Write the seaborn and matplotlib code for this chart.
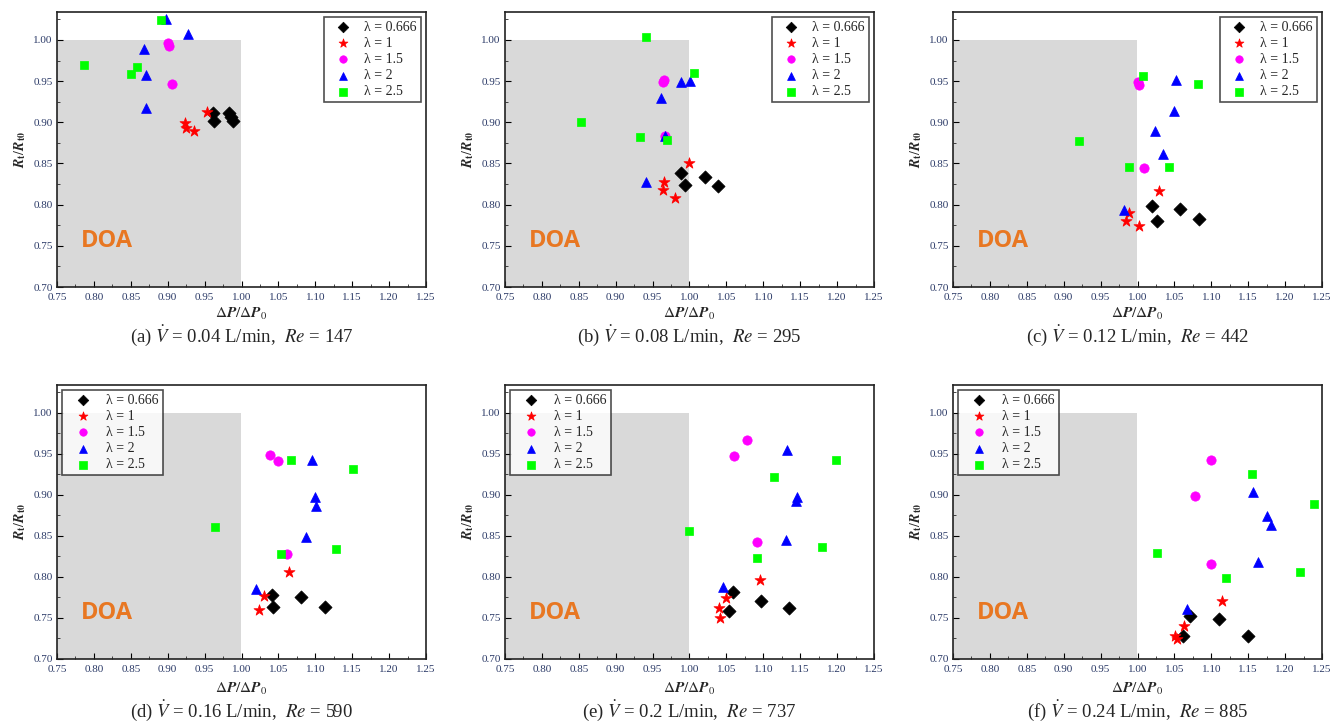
import numpy as np
import pandas as pd
import matplotlib
matplotlib.use("Agg")
import matplotlib.pyplot as plt
import seaborn as sns
from matplotlib.ticker import MultipleLocator
from matplotlib.patches import Rectangle

sns.set_theme(style="white")
plt.rcParams['font.family'] = ['Liberation Serif', 'DejaVu Serif']
plt.rcParams['mathtext.fontset'] = 'stix'

lambdas = ["λ = 0.666", "λ = 1", "λ = 1.5", "λ = 2", "λ = 2.5"]
colors = ["black", "red", "magenta", "blue", "#00FF00"]
markers = ["D", "*", "o", "^", "s"]

captions = [
    r"(a) $\dot{V}$ = 0.04 L/min,  $Re$ = 147",
    r"(b) $\dot{V}$ = 0.08 L/min,  $Re$ = 295",
    r"(c) $\dot{V}$ = 0.12 L/min,  $Re$ = 442",
    r"(d) $\dot{V}$ = 0.16 L/min,  $Re$ = 590",
    r"(e) $\dot{V}$ = 0.2 L/min,  $Re$ = 737",
    r"(f) $\dot{V}$ = 0.24 L/min,  $Re$ = 885",
]

# (a)
a_x = [[0.961, 0.963, 0.983, 0.986, 0.989],
       [0.953, 0.924, 0.925, 0.936],
       [0.900, 0.902, 0.906],
       [0.898, 0.927, 0.868, 0.870, 0.871],
       [0.891, 0.787, 0.858, 0.850]]
a_y = [[0.911, 0.902, 0.911, 0.907, 0.902],
       [0.913, 0.899, 0.893, 0.889],
       [0.996, 0.993, 0.947],
       [1.026, 1.007, 0.989, 0.957, 0.917],
       [1.024, 0.970, 0.967, 0.959]]
# (b)
b_x = [[0.988, 0.994, 1.021, 1.039],
       [1.000, 0.966, 0.964, 0.980],
       [0.966, 0.964, 0.967],
       [0.989, 1.001, 0.961, 0.967, 0.941],
       [0.941, 1.006, 0.853, 0.933, 0.969]]
b_y = [[0.838, 0.824, 0.834, 0.823],
       [0.850, 0.827, 0.818, 0.808],
       [0.952, 0.949, 0.884],
       [0.949, 0.950, 0.929, 0.883, 0.828],
       [1.004, 0.960, 0.900, 0.882, 0.878]]
# (c)
c_x = [[1.019, 1.026, 1.058, 1.084],
       [1.029, 0.989, 0.984, 1.002],
       [1.000, 1.002, 1.009],
       [1.052, 1.049, 1.024, 1.034, 0.982],
       [1.007, 1.082, 0.921, 0.988, 1.043]]
c_y = [[0.798, 0.780, 0.795, 0.783],
       [0.817, 0.790, 0.780, 0.774],
       [0.949, 0.945, 0.844],
       [0.952, 0.914, 0.890, 0.862, 0.794],
       [0.956, 0.946, 0.877, 0.846, 0.846]]
# (d)
d_x = [[1.041, 1.043, 1.081, 1.113],
       [1.065, 1.031, 1.024],
       [1.038, 1.050, 1.061],
       [1.095, 1.099, 1.101, 1.087, 1.019],
       [1.067, 1.151, 0.964, 1.128, 1.053]]
d_y = [[0.778, 0.763, 0.775, 0.763],
       [0.806, 0.777, 0.760],
       [0.949, 0.941, 0.828],
       [0.942, 0.897, 0.887, 0.849, 0.785],
       [0.942, 0.932, 0.861, 0.834, 0.828]]
# (e)
e_x = [[1.059, 1.054, 1.097, 1.135],
       [1.096, 1.050, 1.040, 1.041],
       [1.078, 1.060, 1.091],
       [1.132, 1.145, 1.144, 1.131, 1.046],
       [1.198, 1.115, 0.999, 1.179, 1.092]]
e_y = [[0.782, 0.759, 0.771, 0.762],
       [0.796, 0.774, 0.762, 0.750],
       [0.967, 0.948, 0.843],
       [0.955, 0.897, 0.893, 0.845, 0.788],
       [0.942, 0.922, 0.856, 0.836, 0.823]]
# (f)
f_x = [[1.071, 1.061, 1.111, 1.150],
       [1.115, 1.063, 1.051, 1.054],
       [1.099, 1.078, 1.099],
       [1.157, 1.176, 1.181, 1.163, 1.067],
       [1.155, 1.239, 1.026, 1.220, 1.120]]
f_y = [[0.753, 0.728, 0.749, 0.728],
       [0.771, 0.740, 0.728, 0.724],
       [0.942, 0.899, 0.816],
       [0.903, 0.874, 0.863, 0.818, 0.761],
       [0.925, 0.889, 0.829, 0.806, 0.799]]

panels_x = [a_x, b_x, c_x, d_x, e_x, f_x]
panels_y = [a_y, b_y, c_y, d_y, e_y, f_y]

W, H = 1343, 721
fig = plt.figure(figsize=(W / 100, H / 100), dpi=100)
lefts = [57, 505, 953]
tops = [12, 385]
bottoms = [287, 659]
caption_y = [336, 711]
aw = 369

tick_color = "#2B3A67"
pal = dict(zip(lambdas, colors))
mk = dict(zip(lambdas, markers))
sizes = {"λ = 0.666": 45, "λ = 1": 70, "λ = 1.5": 45, "λ = 2": 50, "λ = 2.5": 40}

xt = np.arange(0.75, 1.2501, 0.05)
yt = np.arange(0.70, 1.0001, 0.05)

for i in range(6):
    r, c = divmod(i, 3)
    l = lefts[c]
    t, b = tops[r], bottoms[r]
    ax = fig.add_axes([l / W, 1 - b / H, aw / W, (b - t) / H])
    rows = []
    for k, lab in enumerate(lambdas):
        for xv, yv in zip(panels_x[i][k], panels_y[i][k]):
            rows.append({"x": xv, "y": yv, "lam": lab})
    df = pd.DataFrame(rows)
    ax.add_patch(Rectangle((0.75, 0.70), 0.25, 0.30, facecolor="#D9D9D9",
                           edgecolor="none", zorder=0))
    for lab in lambdas:
        sub = df[df["lam"] == lab]
        sns.scatterplot(data=sub, x="x", y="y", ax=ax, color=pal[lab],
                        marker=mk[lab], s=sizes[lab], edgecolor=pal[lab],
                        linewidth=0.5, label=lab, zorder=3)
    ax.set_xlim(0.75, 1.25)
    ax.set_ylim(0.70, 1.034)
    ax.set_xticks(xt)
    ax.set_yticks(yt)
    ax.xaxis.set_minor_locator(MultipleLocator(0.025))
    ax.yaxis.set_minor_locator(MultipleLocator(0.025))
    ax.set_xticklabels([f"{v:.2f}" for v in xt])
    ax.set_yticklabels([f"{v:.2f}" for v in yt])
    ax.tick_params(axis="both", which="major", direction="in", length=4,
                   width=0.8, labelsize=8, colors="black", labelcolor=tick_color,
                   bottom=True, left=True)
    ax.tick_params(axis="x", which="major", pad=4)
    ax.tick_params(axis="y", which="major", pad=3)
    ax.tick_params(axis="both", which="minor", direction="in", length=2,
                   width=0.6, bottom=True, left=True)
    for sp in ax.spines.values():
        sp.set_visible(True)
        sp.set_color("#222222")
        sp.set_linewidth(1.2)
    ax.set_xlabel(r"$\Delta\mathbfit{P}/\Delta\mathbfit{P}_{0}$", fontsize=11,
                  labelpad=3 if r == 0 else 5)
    ax.set_ylabel(r"$\mathbfit{R}_{\mathbf{t}}/\mathbfit{R}_{\mathbf{t0}}$", fontsize=10, labelpad=4)
    ax.text(0.783, 0.749, "DOA", fontsize=17, fontweight="bold", color="#E87722",
            family="Open Sans", zorder=2)
    loc = "upper right" if r == 0 else "upper left"
    leg = ax.legend(loc=loc, frameon=True, fancybox=False, edgecolor="#222222",
                    fontsize=10, handletextpad=0.5, borderpad=0.3,
                    labelspacing=0.22, borderaxespad=0.35, markerscale=0.8,
                    handlelength=2.1 if r == 0 else 2.4)
    leg.get_frame().set_linewidth(1.2)
    fig.text((l + aw / 2) / W, 1 - caption_y[r] / H, captions[i], ha="center",
             va="center", fontsize=13.5)

fig.savefig("out.png", dpi=100)
